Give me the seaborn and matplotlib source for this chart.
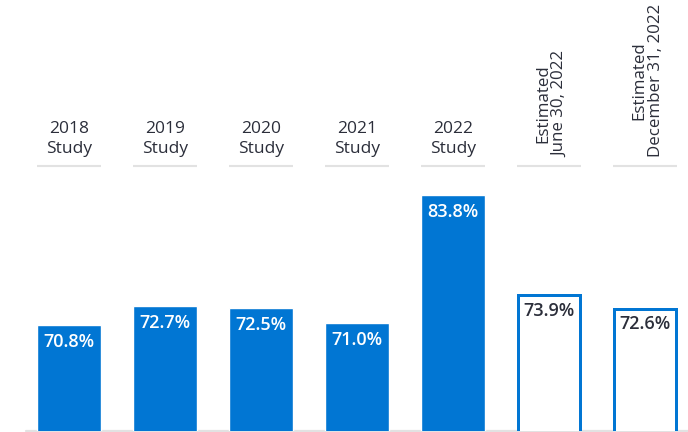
import matplotlib
matplotlib.use("Agg")
import matplotlib.pyplot as plt
import matplotlib.transforms as mtransforms
import seaborn as sns
import pandas as pd

# Data
categories = ["2018\nStudy", "2019\nStudy", "2020\nStudy", "2021\nStudy", "2022\nStudy",
              "Estimated\nJune 30, 2022", "Estimated\nDecember 31, 2022"]
values = [70.8, 72.7, 72.5, 71.0, 83.8, 73.9, 72.6]
estimated = [False, False, False, False, False, True, True]
value_labels = ["70.8%", "72.7%", "72.5%", "71.0%", "83.8%", "73.9%", "72.6%"]

BLUE = "#0176D3"
TEXT = "#2B2E3A"
RULE = "#E2E2E2"

sns.set_theme(style="white")
plt.rcParams["font.family"] = ["Open Sans", "DejaVu Sans"]

df = pd.DataFrame({"cat": categories, "val": values})

fig = plt.figure(figsize=(6.88, 4.32), dpi=100)
ax = fig.add_axes([26 / 688, 1 / 432, 662 / 688, 431 / 432])

sns.barplot(data=df, x="cat", y="val", color=BLUE, saturation=1, width=0.667, ax=ax)

ax.set_xlim(-0.448, 6.448)
ax.set_ylim(60.2, 103.3)
for s in ax.spines.values():
    s.set_visible(False)
ax.set_xticks([])
ax.set_yticks([])
ax.set_xlabel("")
ax.set_ylabel("")

# Baseline
ax.axhline(60.2, color=RULE, lw=1.6, clip_on=False, zorder=0)

lw_px = 3
shrink = lw_px / 96.0
for i, (p, est) in enumerate(zip(ax.patches, estimated)):
    if est:
        p.set_facecolor("white")
        p.set_edgecolor(BLUE)
        p.set_linewidth(lw_px * 72 / 100)
        p.set_x(p.get_x() + shrink / 2)
        p.set_width(p.get_width() - shrink)
        p.set_height(p.get_height() - 0.15)

# Value labels inside the bars
for i, (v, lab, est) in enumerate(zip(values, value_labels, estimated)):
    ax.annotate(lab, xy=(i, v), xytext=(0, -6), textcoords="offset points",
                ha="center", va="top", fontsize=13, fontweight="semibold",
                color=TEXT if est else "white")

# Category headers with rules beneath
trans = mtransforms.blended_transform_factory(ax.transData, fig.transFigure)
y_rule = 1 - 166 / 432
half = 0.667 / 2
for i, (c, est) in enumerate(zip(categories, estimated)):
    ax.plot([i - half, i + half], [y_rule, y_rule], transform=trans,
            color=RULE, lw=1.5, clip_on=False, solid_capstyle="butt")
    if est:
        ax.text(i + 0.03, 1 - 157 / 432, c, transform=trans, rotation=90,
                ha="center", va="bottom", fontsize=12.2, color=TEXT,
                linespacing=1.1)
    else:
        ax.text(i, 1 - 157 / 432, c, transform=trans, ha="center", va="bottom",
                fontsize=12.5, color=TEXT, linespacing=1.3)

fig.savefig("out.png", dpi=100)
